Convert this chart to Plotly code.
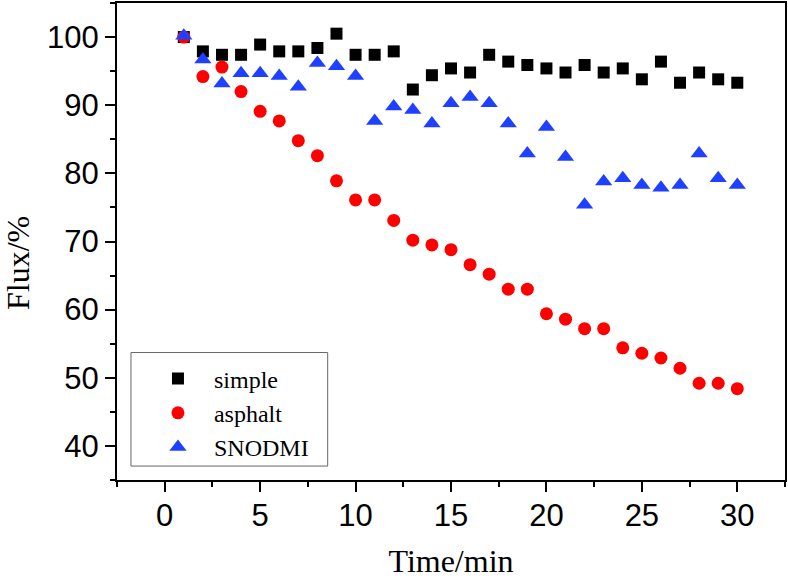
import plotly.graph_objects as go

time_min = list(range(1, 31))
simple = [100.0, 97.9, 97.4, 97.4, 98.9, 97.9, 97.9, 98.4, 100.5, 97.4,
          97.4, 97.9, 92.3, 94.4, 95.4, 94.8, 97.4, 96.4, 95.9, 95.4,
          94.8, 95.9, 94.8, 95.4, 93.8, 96.4, 93.3, 94.8, 93.8, 93.3]
asphalt = [100.0, 94.2, 95.6, 92.0, 89.1, 87.7, 84.8, 82.6, 78.9, 76.1,
           76.1, 73.1, 70.2, 69.5, 68.8, 66.6, 65.2, 63.0, 63.0, 59.4,
           58.6, 57.2, 57.2, 54.4, 53.6, 52.9, 51.4, 49.2, 49.2, 48.4]
snodmi = [100.2, 96.7, 93.2, 94.7, 94.7, 94.3, 92.7, 96.2, 95.7, 94.3,
          87.7, 89.8, 89.3, 87.3, 90.3, 91.2, 90.3, 87.3, 82.9, 86.8,
          82.4, 75.4, 78.8, 79.3, 78.3, 77.9, 78.3, 82.9, 79.3, 78.3]

series_names = ["simple", "asphalt", "SNODMI"]
x_ticks = [0, 5, 10, 15, 20, 25, 30]
y_ticks = [40, 50, 60, 70, 80, 90, 100]

fig = go.Figure()
fig.add_trace(go.Scatter(x=time_min, y=simple, mode="markers", name=series_names[0],
                         marker=dict(symbol="square", size=12, color="#000000")))
fig.add_trace(go.Scatter(x=time_min, y=asphalt, mode="markers", name=series_names[1],
                         marker=dict(symbol="circle", size=13, color="#FF0000")))
fig.add_trace(go.Scatter(x=time_min, y=snodmi, mode="markers", name=series_names[2],
                         marker=dict(symbol="triangle-up", size=15, color="#2040FF")))

tickfont = dict(family="Liberation Sans, Arial", size=31, color="#000000")
titlefont = dict(family="Liberation Serif, Times New Roman", size=32, color="#000000")

fig.update_xaxes(range=[-2.5, 32.5], tickvals=x_ticks, ticks="outside", ticklen=10,
                 tickwidth=2, tickcolor="#000", showline=True, linewidth=2,
                 linecolor="#000", mirror=True, showgrid=False, zeroline=False,
                 tickfont=tickfont, ticklabelstandoff=-3,
                 minor=dict(dtick=2.5, tick0=0, ticks="outside", ticklen=5,
                            tickwidth=2, tickcolor="#000", showgrid=False),
                 title=dict(text="Time/min", font=titlefont, standoff=22))
fig.update_yaxes(range=[35, 105], tickvals=y_ticks, ticks="outside", ticklen=10,
                 tickwidth=2, tickcolor="#000", showline=True, linewidth=2,
                 linecolor="#000", mirror=True, showgrid=False, zeroline=False,
                 tickfont=tickfont,
                 minor=dict(dtick=5, tick0=0, ticks="outside", ticklen=5,
                            tickwidth=2, tickcolor="#000", showgrid=False))

# y-axis title placed like the reference (slightly below the axis centre)
fig.add_annotation(text="Flux/%", textangle=-90, xref="paper", yref="paper",
                   x=(18 - 117) / 669, y=(480 - 262) / 479,
                   xanchor="center", yanchor="middle", showarrow=False,
                   font=titlefont)

fig.add_shape(type="rect", xref="paper", yref="paper",
              x0=(131 - 117) / 669, x1=(328 - 117) / 669,
              y0=(480 - 466) / 479, y1=(480 - 352) / 479,
              line=dict(color="#666666", width=1), fillcolor="rgba(0,0,0,0)")

fig.update_layout(
    width=788, height=579,
    margin=dict(l=117, r=2, t=1, b=99),
    paper_bgcolor="white", plot_bgcolor="white",
    showlegend=True,
    legend=dict(x=(142 - 117) / 669, y=(480 - 356) / 479, xanchor="left", yanchor="top",
                bgcolor="rgba(0,0,0,0)", borderwidth=0, itemwidth=62,
                font=dict(family="Liberation Serif, Times New Roman", size=24, color="#000")),
)

fig.write_html("out.html",
               config={"displayModeBar": False},
               post_script="document.body.style.margin='0';document.body.style.padding='0';")
